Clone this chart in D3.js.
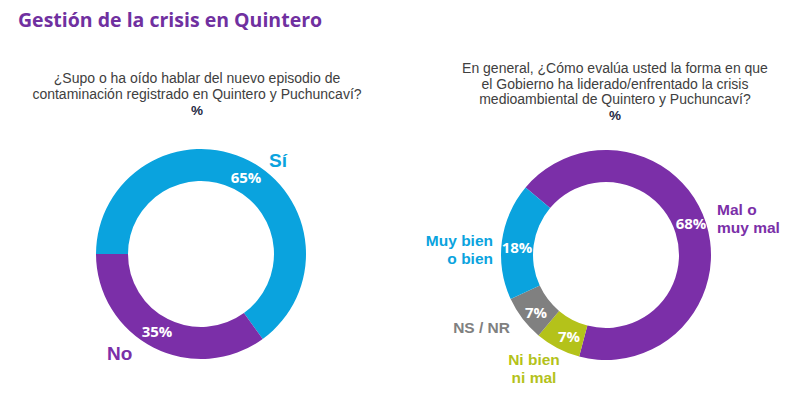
<!DOCTYPE html>
<html>
<head>
<meta charset="utf-8">
<script src="https://cdn.jsdelivr.net/npm/d3@7"></script>
<style>
  body { margin: 0; background: #fff; }
  svg { display: block; font-family: 'Open Sans', sans-serif; }
  .title { font-size: 19.5px; font-weight: 700; fill: #7030a0; }
  .question { font-family: 'Liberation Sans', Arial, sans-serif; font-size: 14px; fill: #404040; }
  .question .pct { font-size: 13.5px; font-weight: 700; fill: #1f2a44; }
  .val { font-size: 15px; font-weight: 700; fill: #fff; }
  .lab { font-family: 'Liberation Sans', Arial, sans-serif; font-size: 15.5px; font-weight: 700; }
  .lab.big { font-size: 19px; }
</style>
</head>
<body>
<div id="chart"></div>
<script>
// data
const title = 'Gestión de la crisis en Quintero';

const q1Lines = [
  '¿Supo o ha oído hablar del nuevo episodio de',
  'contaminación registrado en Quintero y Puchuncaví?',
];
const q1Labels = ['Sí', 'No'];
const q1Values = [65, 35];

const q2Lines = [
  'En general, ¿Cómo evalúa usted la forma en que',
  'el Gobierno ha liderado/enfrentado la crisis',
  'medioambiental de Quintero y Puchuncaví?',
];
const q2Labels = ['Mal o muy mal', 'Ni bien ni mal', 'NS / NR', 'Muy bien o bien'];
const q2Values = [68, 7, 7, 18];

const colors = {
  'Sí': '#0aa3de',
  'No': '#7b2fa8',
  'Mal o muy mal': '#7b2fa8',
  'Ni bien ni mal': '#b4c21a',
  'NS / NR': '#808080',
  'Muy bien o bien': '#0aa3de',
};

const width = 800;
const height = 397;
const outerR = 105;
const innerR = 73;

const svg = d3.select('#chart').append('svg')
  .attr('width', width)
  .attr('height', height);

svg.append('text')
  .attr('class', 'title')
  .attr('x', 18)
  .attr('y', 27)
  .text(title);

// question block: one text element, one tspan per line, then the "%"
function question(lines, cx, y0, lh) {
  const $t = svg.append('text')
    .attr('class', 'question')
    .attr('text-anchor', 'middle')
    .attr('x', cx)
    .attr('y', y0);
  lines.forEach((l, i) => {
    $t.append('tspan')
      .attr('x', cx)
      .attr('dy', i === 0 ? 0 : lh)
      .text(l);
  });
  $t.append('tspan')
    .attr('class', 'pct')
    .attr('x', cx)
    .attr('dy', lh)
    .text('%');
}

function donut(labels, values, cx, cy, startDeg, labelPos) {
  const data = labels.map((k, i) => ({ key: k, value: values[i] }));
  const start = (startDeg * Math.PI) / 180;
  const pie = d3.pie()
    .sort(null)
    .value(d => d.value)
    .startAngle(start)
    .endAngle(start + 2 * Math.PI);
  const arc = d3.arc().innerRadius(innerR).outerRadius(outerR);
  const arcs = pie(data);

  const $g = svg.append('g').attr('transform', `translate(${cx},${cy})`);

  $g.selectAll('path')
    .data(arcs)
    .join('path')
    .attr('d', arc)
    .attr('fill', d => colors[d.data.key]);

  // value labels sit on the ring, near the label side
  $g.selectAll('text.val')
    .data(arcs)
    .join('text')
    .attr('class', 'val')
    .attr('text-anchor', 'middle')
    .attr('dy', '0.35em')
    .attr('x', d => labelPos[d.data.key].v[0])
    .attr('y', d => labelPos[d.data.key].v[1])
    .text(d => `${d.data.value}%`);

  arcs.forEach(d => {
    const p = labelPos[d.data.key];
    const $t = $g.append('text')
      .attr('class', p.big ? 'lab big' : 'lab')
      .attr('fill', colors[d.data.key])
      .attr('text-anchor', p.anchor)
      .attr('x', p.l[0])
      .attr('y', p.l[1]);
    p.lines.forEach((l, i) => {
      $t.append('tspan')
        .attr('x', p.l[0])
        .attr('dy', i === 0 ? 0 : 17.5)
        .text(l);
    });
  });
}

question(q1Lines, 197, 83, 16);
question(q2Lines, 615, 73, 15.7);

donut(q1Labels, q1Values, 201, 254, -90, {
  'Sí': { v: [45, -76], l: [68, -87], anchor: 'start', lines: ['Sí'], big: true },
  'No': { v: [-44, 78], l: [-94, 106], anchor: 'start', lines: ['No'], big: true },
});

donut(q2Labels, q2Values, 606, 255, -50, {
  'Mal o muy mal': { v: [85, -31], l: [111, -40], anchor: 'start', lines: ['Mal o', 'muy mal'] },
  'Ni bien ni mal': { v: [-37, 82], l: [-72, 110], anchor: 'middle', lines: ['Ni bien', 'ni mal'] },
  'NS / NR': { v: [-70, 58], l: [-96, 78], anchor: 'end', lines: ['NS / NR'] },
  'Muy bien o bien': { v: [-89, -7], l: [-113, -9], anchor: 'end', lines: ['Muy bien', 'o bien'] },
});
</script>
</body>
</html>
